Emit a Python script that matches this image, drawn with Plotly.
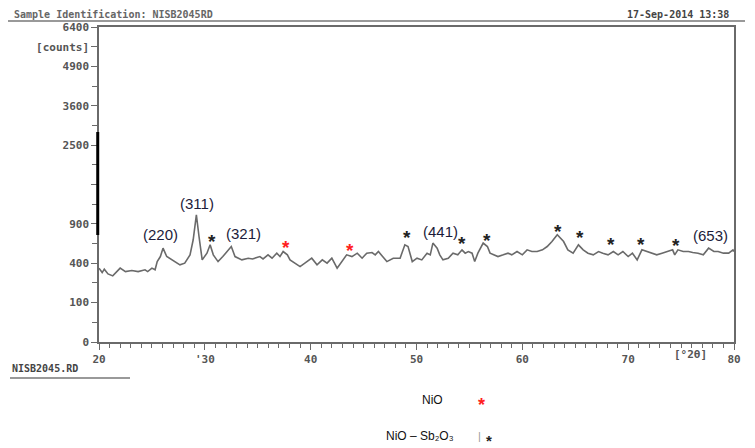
import numpy as np
import plotly.graph_objects as go

# ---- data (2theta in degrees, intensity in counts) ----
two_theta = [
    20.0, 20.3, 20.5, 20.85, 21.3, 22.0, 22.5, 23.1, 23.7, 24.35, 24.6, 25.0, 25.3, 25.5, 25.8,
    26.05, 26.4, 26.9, 27.65, 28.1, 28.6, 28.9, 29.2, 29.45, 29.75, 30.2, 30.5, 30.8, 31.25, 31.7,
    32.5, 32.85, 33.5, 34.1, 34.5, 35.2, 35.5, 35.97, 36.35, 36.8, 37.1, 37.4, 37.8, 38.05, 38.5,
    39.0, 39.45, 40.1, 40.6, 41.1, 41.55, 42.0, 42.5, 42.97, 43.4, 43.9, 44.4, 44.86, 45.3, 45.8,
    46.1, 46.4, 46.8, 47.2, 47.8, 48.45, 48.9, 49.2, 49.6, 50.05, 50.5, 51.0, 51.3, 51.55, 51.95,
    52.2, 52.5, 53.0, 53.45, 53.9, 54.3, 54.6, 54.9, 55.25, 55.5, 55.8, 56.3, 56.7, 56.95, 57.4,
    57.7, 58.2, 58.65, 59.0, 59.5, 60.0, 60.45, 60.9, 61.4, 61.9, 62.35, 62.8, 63.3, 63.9, 64.3,
    64.8, 65.3, 65.75, 66.2, 66.7, 67.2, 67.6, 68.1, 68.6, 69.05, 69.5, 70.0, 70.4, 70.85, 71.3,
    71.8, 72.3, 72.7, 73.2, 73.7, 74.2, 74.4, 74.7, 75.2, 75.7, 76.1, 76.6, 77.1, 77.6, 78.1,
    78.5, 79.0, 79.5, 79.9, 80.0,
]
counts = [
    352, 311, 342, 299, 282, 352, 320, 329, 320, 336, 320, 352, 336, 417, 471,
    568, 471, 435, 384, 401, 490, 674, 1044, 718, 435, 509, 609, 490, 417, 471,
    588, 471, 435, 453, 445, 471, 445, 490, 453, 509, 471, 528, 490, 435, 401,
    367, 401, 453, 384, 435, 401, 453, 352, 417, 490, 471, 509, 453, 509, 516,
    490, 528, 471, 417, 453, 453, 609, 588, 417, 453, 435, 509, 490, 631, 568,
    490, 435, 453, 509, 490, 548, 509, 528, 509, 417, 509, 631, 588, 509, 490,
    471, 490, 509, 490, 528, 490, 548, 528, 528, 548, 588, 651, 741, 651, 548,
    509, 609, 548, 509, 490, 528, 509, 490, 528, 490, 528, 471, 509, 435, 548,
    528, 509, 490, 509, 528, 548, 490, 548, 528, 528, 516, 509, 490, 568, 528,
    528, 509, 509, 548, 528,
]
y_tick_counts = [0, 100, 400, 900, 1600, 2500, 3600, 4900, 5625, 6400]
y_tick_labels = ["0", "100", "400", "900", "", "2500", "3600", "4900", "[counts]", "6400"]
x_tick_vals = [20, 30, 40, 50, 60, 70, 80]
x_tick_labels = ["20", "'30", "40", "50", "60", "70", "80"]

# page has an 8px body margin; layout is expressed in page pixels
PAD = 8
W, H = 755 - PAD, 448 - PAD
L, R, T, B = 99, 734, 27, 342


def xd(px):
    return 20 + (px - L) / (R - L) * 60


def yd(py):
    return (B - py) / (B - T) * 80


def xp(px):
    return (px - L) / (R - L)


def yp(py):
    return (B - py) / (B - T)


fig = go.Figure()
fig.add_trace(go.Scatter(
    x=two_theta, y=np.sqrt(np.array(counts, dtype=float)),
    mode="lines", line=dict(color="#6a6a6a", width=1.6), showlegend=False,
    hoverinfo="skip",
))

mono = "DejaVu Sans Mono"
tick_font = dict(family=mono, size=11, color="#555555", weight="bold")

fig.update_layout(
    width=W, height=H,
    margin=dict(l=L - PAD, r=755 - R, t=T - PAD, b=448 - B),
    paper_bgcolor="white", plot_bgcolor="white",
    xaxis=dict(
        range=[20, 80], showgrid=False, zeroline=False,
        showline=True, linecolor="#6a6a6a", linewidth=1.5, mirror=True,
        tickmode="array", tickvals=x_tick_vals, ticktext=x_tick_labels,
        ticks="outside", ticklen=6, tickcolor="#6a6a6a", tickwidth=1.3,
        minor=dict(dtick=1, ticks="outside", ticklen=4, tickcolor="#6a6a6a", tickwidth=1.2),
        tickfont=tick_font,
    ),
    yaxis=dict(
        range=[0, 80], showgrid=False, zeroline=False,
        showline=True, linecolor="#6a6a6a", linewidth=1.5, mirror=True,
        tickmode="array", tickvals=list(np.sqrt(y_tick_counts)), ticktext=y_tick_labels,
        ticks="outside", ticklen=6, tickcolor="#6a6a6a", tickwidth=1.3,
        minor=dict(tickmode="array", tickvals=[5, 15, 25, 35, 45, 55, 65], ticks="outside",
                   ticklen=5, tickcolor="#6a6a6a", tickwidth=1.2),
        tickfont=tick_font,
    ),
)

# scan artefact: dark bar on the y axis
fig.add_shape(type="line", xref="paper", yref="paper", x0=-0.002, x1=-0.002,
              y0=yp(132), y1=yp(235), line=dict(color="black", width=3))
# header rule
fig.add_shape(type="line", xref="paper", yref="paper", x0=xp(PAD), x1=xp(745),
              y0=yp(21), y1=yp(21), line=dict(color="#777777", width=1.5))
# file name underline
fig.add_shape(type="line", xref="paper", yref="paper", x0=xp(10), x1=xp(130),
              y0=yp(378), y1=yp(378), line=dict(color="#777777", width=1.5))

ann = []


def txt(text, px, py, size=14, color="#1c1c3a", family="Arial", ref="data", bold=False, xanchor="center"):
    if bold:
        text = "<b>" + text + "</b>"
    if ref == "data":
        ann.append(dict(x=xd(px), y=yd(py), xref="x", yref="y", text=text, showarrow=False,
                        xanchor=xanchor, yanchor="middle",
                        font=dict(family=family, size=size, color=color)))
    else:
        ann.append(dict(x=xp(px), y=yp(py), xref="paper", yref="paper", text=text, showarrow=False,
                        xanchor=xanchor, yanchor="middle",
                        font=dict(family=family, size=size, color=color)))


# peak labels
txt("(220)", 160, 234, size=15)
txt("(311)", 197, 203, size=15)
txt("(321)", 243, 233, size=15)
txt("(441)", 440, 231, size=15)
txt("(653)", 710, 235, size=15)

star_black = "#222222"
star_red = "#ff2020"
for (sx, sy, c) in [(212, 236, star_black), (286, 242, star_red), (350, 245, star_red),
                    (407, 232, star_black), (462, 238, star_black), (487, 235, star_black),
                    (558, 226, star_black), (580, 232, star_black), (611, 239, star_black),
                    (641, 239, star_black), (676, 240, star_black)]:
    txt("*", sx, sy + 5, size=19, color=c, bold=True)

# axis unit label
txt("[°2θ]", 690, 354, size=11, color="#555555", family=mono, ref="paper", bold=True)

# header
txt("Sample Identification: NISB2045RD", 12, 15, size=10, color="#666666", family=mono,
    ref="paper", bold=True, xanchor="left")
txt("17-Sep-2014 13:38", 625, 15, size=10, color="#444444", family=mono, ref="paper", bold=True,
    xanchor="left")
# file name
txt("NISB2045.RD", 10, 368, size=10, color="#444444", family=mono, ref="paper", bold=True,
    xanchor="left")

# phase key
txt("NiO", 432, 400, size=12, color="#111111", ref="paper")
txt("*", 481, 405, size=18, color=star_red, ref="paper", bold=True)
txt("NiO – Sb₂O₃", 420, 436, size=12, color="#111111", ref="paper")
txt("|", 479, 436, size=11, color="#999999", ref="paper")
txt("*", 489, 440, size=15, color=star_black, ref="paper", bold=True)

fig.update_layout(annotations=ann)
fig.write_html("out.html")
